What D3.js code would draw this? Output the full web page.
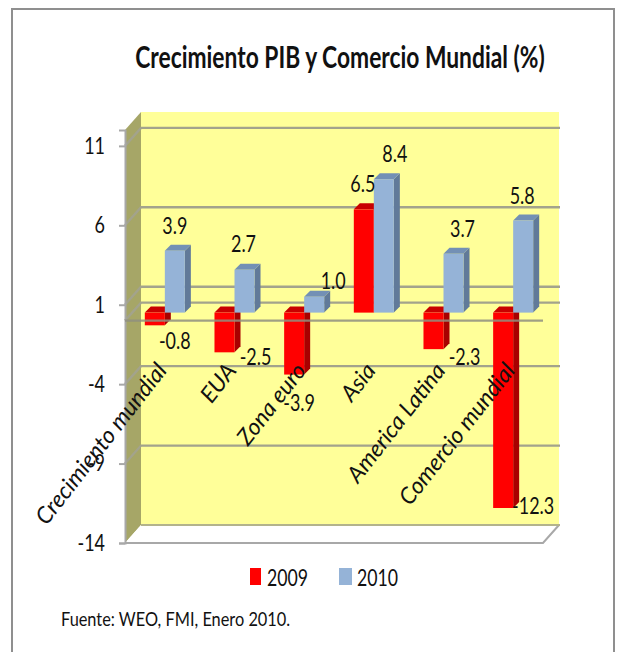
<!DOCTYPE html>
<html>
<head>
    <meta charset="utf-8">
    <script src="https://d3js.org/d3.v7.min.js"></script>
    <style>
        body { margin: 0; background: #fff; }
        text { font-family: Lato, "Liberation Sans", sans-serif; fill: #111; }
    </style>
</head>
<body>
    <svg width="617" height="652"></svg>

    <script>
        var categories = ["Crecimiento mundial", "EUA", "Zona euro", "Asia", "America Latina", "Comercio mundial"];
        var years = ["2009", "2010"];
        var values2009 = [-0.8, -2.5, -3.9, 6.5, -2.3, -12.3];
        var values2010 = [3.9, 2.7, 1.0, 8.4, 3.7, 5.8];
        var yTicks = [-14, -9, -4, 1, 6, 11];

        // label nudges, hand placed like the original chart [dx, dy] per year
        var nudge2009 = [[20, 16], [31, 5], [5, 28], [-1, -5], [31, 8], [30, -2]];
        var nudge2010 = [[0, -5], [-1, -6], [19, 4], [11, -5], [9, -5], [-1, -4]];

        var svg = d3.select("svg");

        var plotLeft = 125, plotRight = 543, plotBottom = 543, plotTop = 130;
        var backDx = 16, backDy = -18;   // front plane to back wall
        var barDx = 5, barDy = -8;       // front plane to bars
        var depth = 6;

        var y = d3.scaleLinear().domain([-14, 12]).range([plotBottom, plotTop]);
        var x0 = d3.scaleBand().domain(categories).range([plotLeft, plotRight]);
        var x1 = d3.scaleBand().domain(years).range([0, x0.bandwidth()]).paddingOuter(0.74).paddingInner(0);
        var color = { "2009": "#ff0000", "2010": "#95b3d7" };
        var sideColor = { "2009": "#a80000", "2010": "#617a99" };
        var capColor = { "2009": "#c80000", "2010": "#7390b5" };
        var gridColor = "#a3a38c";

        // the original font is narrower than anything installed, squeeze the text
        function squeeze(sel, f) {
            sel.each(function() {
                d3.select(this).attr("lengthAdjust", "spacingAndGlyphs")
                    .attr("textLength", this.getComputedTextLength() * f);
            });
        }

        // outer frame
        svg.append("rect").attr("x", 12).attr("y", 9).attr("width", 602).attr("height", 660)
            .attr("fill", "#fff").attr("stroke", "#8f8f8f").attr("stroke-width", 2);

        // title
        svg.append("text").attr("x", 340).attr("y", 68).attr("text-anchor", "middle")
            .attr("font-size", 30).attr("font-weight", "bold").text("Crecimiento PIB y Comercio Mundial (%)")
            .call(squeeze, 0.76);

        // walls
        svg.append("rect").attr("x", plotLeft + backDx).attr("y", plotTop + backDy)
            .attr("width", plotRight - plotLeft).attr("height", plotBottom - plotTop)
            .attr("fill", "#ffff99");
        svg.append("polygon").attr("fill", "#a6a667").attr("points", [
            [plotLeft, plotTop], [plotLeft + backDx, plotTop + backDy], [plotLeft + backDx, plotBottom + backDy], [plotLeft, plotBottom]
        ].join(" "));

        // floor
        svg.append("path").attr("fill", "#fff").attr("stroke", "none")
            .attr("d", "M" + plotLeft + "," + plotBottom + "L" + plotRight + "," + plotBottom + "L" + (plotRight + backDx) + "," + (plotBottom + backDy) + "L" + (plotLeft + backDx) + "," + (plotBottom + backDy) + "Z");
        svg.append("path").attr("fill", "none").attr("stroke", "#a8a8a8").attr("stroke-width", 2)
            .attr("d", "M" + plotLeft + "," + plotBottom + "L" + plotRight + "," + plotBottom + "L" + (plotRight + backDx) + "," + (plotBottom + backDy));
        svg.append("line").attr("x1", plotLeft + backDx).attr("x2", plotRight + backDx + 1)
            .attr("y1", plotBottom + backDy).attr("y2", plotBottom + backDy)
            .attr("stroke", "#b3b38c").attr("stroke-width", 2);

        // gridlines on wall and side
        var grid = svg.append("g").attr("fill", "none").attr("stroke", gridColor).attr("stroke-width", 2.4);
        yTicks.filter(function(d) { return d > -14; }).forEach(function(d) {
            grid.append("path").attr("d", "M" + plotLeft + "," + y(d) + "L" + (plotLeft + backDx) + "," + (y(d) + backDy) + "H" + (plotRight + backDx + 1));
        });
        // zero plane, back edge
        grid.append("path").attr("d", "M" + plotLeft + "," + y(0) + "L" + (plotLeft + backDx) + "," + (y(0) + backDy) + "H" + (plotRight + backDx + 1));

        // value axis
        var yAxis = svg.append("g").attr("transform", "translate(" + plotLeft + ",0)")
            .call(d3.axisLeft(y).tickValues(yTicks).tickSize(6).tickPadding(14).tickFormat(String));
        yAxis.select(".domain").attr("stroke", "#a8a8a8").attr("stroke-width", 2);
        yAxis.selectAll(".tick line").attr("stroke", "#a8a8a8").attr("stroke-width", 2);
        yAxis.selectAll("text").attr("font-size", 23).style("font-family", "Lato").call(squeeze, 0.78);

        // bars
        var series = [values2009, values2010];
        var bars = svg.append("g");
        categories.forEach(function(cat, i) {
            years.forEach(function(yr, s) {
                var v = series[s][i];
                var bx = x0(cat) + x1(yr) + barDx;
                var w = x1.bandwidth();
                var yTop = Math.min(y(v), y(0)) + barDy;
                var yBot = Math.max(y(v), y(0)) + barDy;
                bars.append("polygon").attr("fill", sideColor[yr]).attr("points", [
                    [bx + w, yTop], [bx + w + depth, yTop - depth], [bx + w + depth, yBot - depth], [bx + w, yBot]
                ].join(" "));
                bars.append("polygon").attr("fill", capColor[yr]).attr("points", [
                    [bx, yTop], [bx + depth, yTop - depth], [bx + w + depth, yTop - depth], [bx + w, yTop]
                ].join(" "));
                bars.append("rect").attr("x", bx).attr("y", yTop).attr("width", w).attr("height", yBot - yTop)
                    .attr("fill", color[yr]);
            });
        });

        // zero plane, front edge runs over the bars
        svg.append("line").attr("x1", plotLeft).attr("x2", plotRight).attr("y1", y(0)).attr("y2", y(0))
            .attr("stroke", "#8f8f80").attr("stroke-width", 2.4).attr("stroke-opacity", 0.85);

        // category labels
        var xAxis = svg.append("g").attr("transform", "translate(0,362)")
            .call(d3.axisBottom(x0).tickSize(0).tickPadding(0));
        xAxis.select(".domain").remove();
        xAxis.selectAll("text")
            .attr("font-size", 23)
            .style("font-family", "Lato")
            .style("font-style", "italic")
            .attr("text-anchor", "end")
            .attr("y", 0).attr("dy", 0)
            .attr("transform", "translate(8,9) rotate(-52)")
            .call(squeeze, 1);

        // value labels
        var nudges = [nudge2009, nudge2010];
        var labels = svg.append("g").attr("font-size", 23).attr("text-anchor", "middle");
        categories.forEach(function(cat, i) {
            years.forEach(function(yr, s) {
                var v = series[s][i];
                var bx = x0(cat) + x1(yr) + barDx + x1.bandwidth() / 2;
                var base = v >= 0 ? y(v) + barDy - 12 : y(v) + barDy + 8;
                labels.append("text")
                    .attr("x", bx + nudges[s][i][0])
                    .attr("y", base + nudges[s][i][1])
                    .text(v.toFixed(1))
                    .call(squeeze, 0.78);
            });
        });

        // legend
        var legendX = d3.scaleOrdinal().domain(years).range([250, 339]);
        var legend = svg.append("g").selectAll("g").data(years).enter().append("g")
            .attr("transform", function(d) { return "translate(" + legendX(d) + ",568)"; });
        legend.append("rect").attr("width", function(d, i) { return i ? 13 : 11; }).attr("height", 17)
            .attr("fill", function(d) { return color[d]; });
        legend.append("text").attr("x", function(d, i) { return i ? 18 : 17; }).attr("y", 18).attr("font-size", 23)
            .text(function(d) { return d; }).call(squeeze, 0.77);

        // source
        svg.append("text").attr("x", 61).attr("y", 626).attr("font-size", 19).text("Fuente: WEO, FMI, Enero 2010.")
            .call(squeeze, 0.86);
    </script>
</body>
</html>
